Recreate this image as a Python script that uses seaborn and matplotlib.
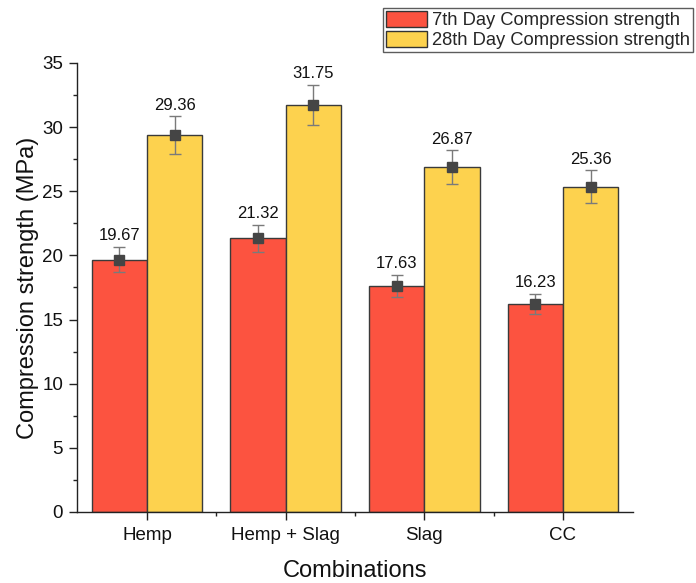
import matplotlib
matplotlib.use("Agg")
import matplotlib.pyplot as plt
import seaborn as sns
import pandas as pd
from matplotlib.ticker import MultipleLocator, FixedLocator

combinations = ["Hemp", "Hemp + Slag", "Slag", "CC"]
series_names = ["7th Day Compression strength", "28th Day Compression strength"]
day7 = [19.67, 21.32, 17.63, 16.23]
day28 = [29.36, 31.75, 26.87, 25.36]
err7 = [1.00, 1.08, 0.86, 0.80]
err28 = [1.47, 1.55, 1.33, 1.26]

colors = ["#FC5340", "#FDD24E"]

sns.set_theme(style="ticks")
plt.rcParams["font.family"] = ["Liberation Sans", "DejaVu Sans"]

df = pd.DataFrame({
    "Combination": combinations * 2,
    "Series": [series_names[0]] * 4 + [series_names[1]] * 4,
    "Strength": day7 + day28,
})

fig = plt.figure(figsize=(6.96, 5.83), dpi=100)
ax = fig.add_axes([0.1106, 0.1218, 0.7989, 0.7702])

sns.barplot(data=df, x="Combination", y="Strength", hue="Series",
            order=combinations, hue_order=series_names, palette=colors,
            errorbar=None, width=0.8, gap=0, edgecolor="#3a3a3a",
            linewidth=1.0, saturation=1, ax=ax, legend=True)

# error bars, square markers and value labels on each bar
values = {series_names[0]: (day7, err7), series_names[1]: (day28, err28)}
for container, name in zip(ax.containers, series_names):
    vals, errs = values[name]
    for bar, v, e in zip(container, vals, errs):
        xc = bar.get_x() + bar.get_width() / 2
        ax.errorbar(xc, v, yerr=e, fmt="s", color="#454545", ecolor="#7a7a7a",
                    markersize=7, elinewidth=1.0, capsize=4, capthick=1.0, zorder=5)
        ax.annotate(f"{v:.2f}", (xc, v + e), xytext=(0, 2.5), textcoords="offset points",
                    ha="center", va="bottom", fontsize=12, color="#111111")

ax.set_xlim(-0.505, 3.505)
ax.set_ylim(0, 35)
ax.yaxis.set_major_locator(MultipleLocator(5))
ax.yaxis.set_minor_locator(MultipleLocator(2.5))
ax.xaxis.set_minor_locator(FixedLocator([0.5, 1.5, 2.5]))
ax.tick_params(axis="both", which="major", direction="out", length=6, width=1,
               color="#222222", labelsize=13.5, labelcolor="#111111")
ax.tick_params(axis="x", which="major", pad=5)
ax.tick_params(axis="y", which="major", pad=4)
ax.tick_params(axis="both", which="minor", direction="out", length=3, width=1, color="#222222")
for side in ["top", "right"]:
    ax.spines[side].set_visible(False)
for side in ["left", "bottom"]:
    ax.spines[side].set_color("#222222")
    ax.spines[side].set_linewidth(1.0)

ax.set_xlabel("Combinations", fontsize=17, color="#111111", labelpad=11)
ax.set_ylabel("Compression strength (MPa)", fontsize=17, color="#111111", labelpad=2)

leg = ax.legend(loc="upper left", bbox_to_anchor=(383 / 696, 1 - 8 / 583),
                bbox_transform=fig.transFigure, frameon=True, fontsize=13.2,
                handlelength=2.25, handleheight=0.95, handletextpad=0.3,
                borderpad=0.15, labelspacing=0.1, borderaxespad=0, fancybox=False)
leg.get_frame().set_edgecolor("#333333")
leg.get_frame().set_linewidth(1.0)
for h in leg.legend_handles:
    h.set_edgecolor("#333333")

fig.savefig("out.png", dpi=100)
